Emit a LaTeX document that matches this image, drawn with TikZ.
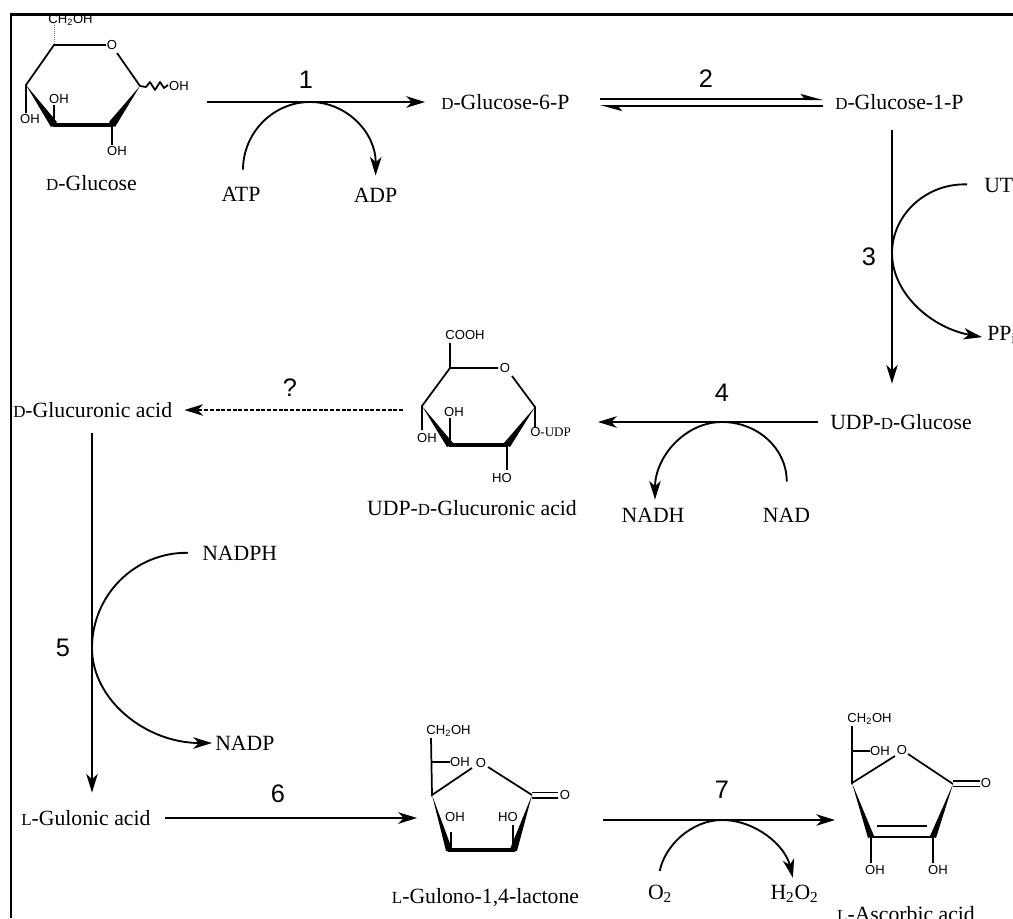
\documentclass[tikz,border=0pt]{standalone}
\usepackage{fontspec}
\setmainfont{Liberation Serif}
\setsansfont{Liberation Sans}
\usetikzlibrary{arrows.meta}
\def\u{0.75pt}
\newcommand\smc[1]{{\fontsize{12.7pt}{12.7pt}\selectfont #1}}
\tikzset{
  lab/.style={font=\rmfamily\fontsize{16.3pt}{18pt}\selectfont,inner sep=0pt,text height=10.7pt,text depth=0pt},
  num/.style={font=\sffamily\fontsize{19pt}{21pt}\selectfont,inner sep=0pt,text height=13.6pt,text depth=0pt},
  atm/.style={font=\sffamily\fontsize{9.8pt}{11pt}\selectfont,inner sep=0pt,text height=7pt,text depth=0pt},
  tip/.style={-{Stealth[length=14pt,width=8.6pt,inset=4pt]}},
  rxn/.style={line width=1.45pt,tip},
  dashrxn/.style={line width=1.05pt,tip,dash pattern=on 3pt off 1.3pt},
  cof/.style={line width=1.4pt,tip},
  cofs/.style={line width=1.4pt},
  eq/.style={line width=1.5pt},
  bond/.style={line width=1.3pt},
  bold/.style={line width=3.2pt,line cap=round},
  wedge/.style={fill=black,draw=none},
  frame/.style={line width=1.9pt,line join=miter}
}
\begin{document}
\begin{tikzpicture}[x=0.75pt,y=-0.75pt]
\path[use as bounding box,clip] (0,0) rectangle (1013,918);
\fill[white] (0,0) rectangle (1013,918);

% free ends of connectors
\coordinate (in1) at (207,102);
\coordinate (out6) at (417,818);
\coordinate (in7) at (603,820);
\coordinate (out7) at (835,820);
\coordinate (inq) at (403,410);
\coordinate (out4) at (598,422);
\coordinate (v3) at (892,130);
\coordinate (v5) at (92,433);
\coordinate (t1) at (310,102);
\coordinate (t3) at (892,253);
\coordinate (t4) at (722,422);
\coordinate (t5) at (92,648);
\coordinate (t7) at (722,820);

% labels
\node[lab] (glc) at (91.5,183) {\smc{D}-Glucose};
\node[lab,anchor=west] (g6p) at (441,102) {\smc{D}-Glucose-6-P};
\node[lab,anchor=west] (g1p) at (835,102) {\smc{D}-Glucose-1-P};
\node[lab] (atp) at (241,194) {ATP};
\node[lab] (adp) at (375.5,195) {ADP};
\node[lab,anchor=west] (utp) at (984,185) {UT};
\node[lab,anchor=west] (ppi) at (987,333) {PP\textsubscript{i}};
\node[lab,anchor=west] (udpg) at (830,422) {UDP-\smc{D}-Glucose};
\node[lab] (nadh) at (653,515) {NADH};
\node[lab] (nad) at (786.5,515) {NAD};
\node[lab] (udpga) at (472,508) {UDP-\smc{D}-Glucuronic acid};
\node[lab,anchor=west] (glca) at (13,410) {\smc{D}-Glucuronic acid};
\node[lab,anchor=west] (nadph) at (202,553) {NADPH};
\node[lab,anchor=west] (nadp) at (215,743) {NADP};
\node[lab,anchor=west] (gula) at (21,818) {\smc{L}-Gulonic acid};
\node[lab] (lact) at (485.5,896) {\smc{L}-Gulono-1,4-lactone};
\node[lab] (oo) at (660,892) {O\textsubscript{2}};
\node[lab] (hoo) at (794.5,892) {H\textsubscript{2}O\textsubscript{2}};
\node[lab] (asc) at (906,914) {\smc{L}-Ascorbic acid};

% step numbers
\node[num] (n1) at (306,79) {1};
\node[num] (n2) at (706,78) {2};
\node[num] (n3) at (869,256) {3};
\node[num] (n4) at (722,392) {4};
\node[num] (n5) at (63,647) {5};
\node[num] (n6) at (278,793) {6};
\node[num] (n7) at (722,789) {7};
\node[num] (nq) at (290,387) {?};

% reaction arrows
\draw[rxn,shorten >=16*\u] (in1) -- (g6p.west);
\draw[eq,-{Stealth[harpoon,length=14pt,width=7.5pt,inset=3pt]}] ([yshift=3*\u,xshift=30*\u]g6p.east) -- ([yshift=3*\u,xshift=-12*\u]g1p.west);
\draw[eq,-{Stealth[harpoon,length=14pt,width=7.5pt,inset=3pt]}] ([yshift=-4*\u,xshift=-12*\u]g1p.west) -- ([yshift=-4*\u,xshift=30*\u]g6p.east);
\draw[rxn,shorten >=31*\u,shorten <=21*\u] (g1p.south -| v3) -- (udpg.north -| v3);
\draw[rxn,shorten <=12*\u] (udpg.west) -- (out4);
\draw[dashrxn,shorten >=12*\u] (inq) -- (glca.east);
\draw[rxn,shorten >=18*\u] (v5) -- (gula.north -| v5);
\draw[rxn,shorten <=14*\u] (gula.east) -- (out6);
\draw[rxn] (in7) -- (out7);

% cofactor curves
\draw[cof,shorten <=17*\u,shorten >=12*\u] ([xshift=2*\u]atp.north) .. controls (243,133) and (273,102) .. (t1) .. controls (347,102) and (376,133) .. (adp.north);
\draw[cofs,shorten <=17*\u] (utp.west) .. controls (926,183) and (892,215) .. (t3);
\draw[cof,shorten >=5*\u] (t3) .. controls (892,294) and (932,328) .. ([yshift=-5*\u]ppi.west);
\draw[cof,shorten <=26*\u,shorten >=8*\u] (nad.north) .. controls (787,449) and (758,422) .. (t4) .. controls (685,422) and (655,457) .. ([xshift=2*\u]nadh.north);
\draw[cofs,shorten <=14*\u] (nadph.west) .. controls (135,552) and (92,595) .. (t5);
\draw[cof,shorten >=3*\u] (t5) .. controls (92,700) and (146,743) .. (nadp.west);
\draw[cof,shorten <=14*\u,shorten >=7*\u] ([xshift=-3*\u]oo.north) .. controls (665,845) and (692,820) .. (t7) .. controls (755,820) and (785,845) .. (hoo.north);

% D-glucose
\node[atm] (gch) at (70.5,19) {CH\textsubscript{2}OH};
\draw[line width=0.5pt,densely dotted,gray] (54,25) -- (54,45);
\node[atm] (go) at (112,45) {O};
\draw[bond] (106,45) -- (54,45) -- (26,85) -- (26,113);
\draw[bond] (117,53) -- (140,86);
\fill[wedge] (26,85) -- (51,127) -- (57,122) -- cycle;
\fill[wedge] (140,86) -- (109,122) -- (115,127) -- cycle;
\draw[bold] (54,125) -- (112,125);
\draw[bond] (54,125) -- (54,105);
\draw[bond] (112,125) -- (112,145);
\draw[bond,line join=round] (140,86) -- (146,87) -- (150,82) -- (155,90) -- (160,82) -- (164,88) -- (168,85);
\node[atm] (goh1) at (179,86) {OH};
\node[atm] (goh2) at (30,119) {OH};
\node[atm] (goh3) at (59,99) {OH};
\node[atm] (goh4) at (117,151) {OH};

% UDP-D-glucuronic acid
\node[atm] (uco) at (465,335) {COOH};
\node[atm] (uo) at (505,368) {O};
\draw[bond] (450,343) -- (450,368);
\draw[bond] (498,368) -- (450,368) -- (422,406) -- (422,430);
\draw[bond] (512,376) -- (535,407) -- (535,427);
\fill[wedge] (422,406) -- (447,447) -- (453,443) -- cycle;
\fill[wedge] (535,407) -- (504,443) -- (510,447) -- cycle;
\draw[bold] (450,445) -- (507,445);
\draw[bond] (450,445) -- (450,418);
\draw[bond] (507,445) -- (507,470);
\node[atm] (uoh1) at (427,438) {OH};
\node[atm] (uoh2) at (454,412) {OH};
\node[atm] (uoh3) at (502,478) {HO};
\node[atm,anchor=west] (uudp) at (530,432) {O\rmfamily-UDP};

% L-gulono-1,4-lactone
\node[atm] (lch) at (448.5,730) {CH\textsubscript{2}OH};
\node[atm] (loh0) at (460,762) {OH};
\node[atm] (lo) at (481,763) {O};
\node[atm] (lco) at (565,795) {O};
\draw[bond] (431,738) -- (432,795) -- (472,768);
\draw[bond] (431,762) -- (450,762);
\draw[bond] (488,767) -- (532,795);
\draw[bond] (532,792.5) -- (558,792.5);
\draw[bond] (532,798) -- (558,798);
\fill[wedge] (432,795) -- (446,851) -- (452,849) -- cycle;
\fill[wedge] (532,795) -- (510,849) -- (517,851) -- cycle;
\draw[bold] (449,850) -- (514,850);
\draw[bond] (451,850) -- (451,832);
\draw[bond] (513,850) -- (513,825);
\node[atm] (loh1) at (455,817) {OH};
\node[atm] (loh2) at (508,817) {HO};

% L-ascorbic acid
\node[atm] (ach) at (869.5,718) {CH\textsubscript{2}OH};
\node[atm] (aoh0) at (880,751) {OH};
\node[atm] (ao) at (902,750) {O};
\node[atm] (aco) at (986,783) {O};
\draw[bond] (852,726) -- (852,783) -- (895,756);
\draw[bond] (852,751) -- (870,751);
\draw[bond] (908,754) -- (953,784);
\draw[bond] (953,781) -- (980,781);
\draw[bond] (953,786.5) -- (980,786.5);
\fill[wedge] (852,783) -- (868,838) -- (874,836) -- cycle;
\fill[wedge] (953,784) -- (930,836) -- (936,838) -- cycle;
\draw[line width=1.8pt] (870,837) -- (934,837);
\draw[bond] (877,826) -- (927,826);
\draw[bond] (871,837) -- (871,863);
\draw[bond] (933,837) -- (933,863);
\node[atm] (aoh1) at (875,870) {OH};
\node[atm] (aoh2) at (938,870) {OH};

% frame
\fill[white] (0,0) rectangle (1013,16);
\fill[white] (0,0) rectangle (10,918);
\draw[frame] (11,918) -- (11,14.4) -- (1013,14.4);
\end{tikzpicture}
\end{document}
